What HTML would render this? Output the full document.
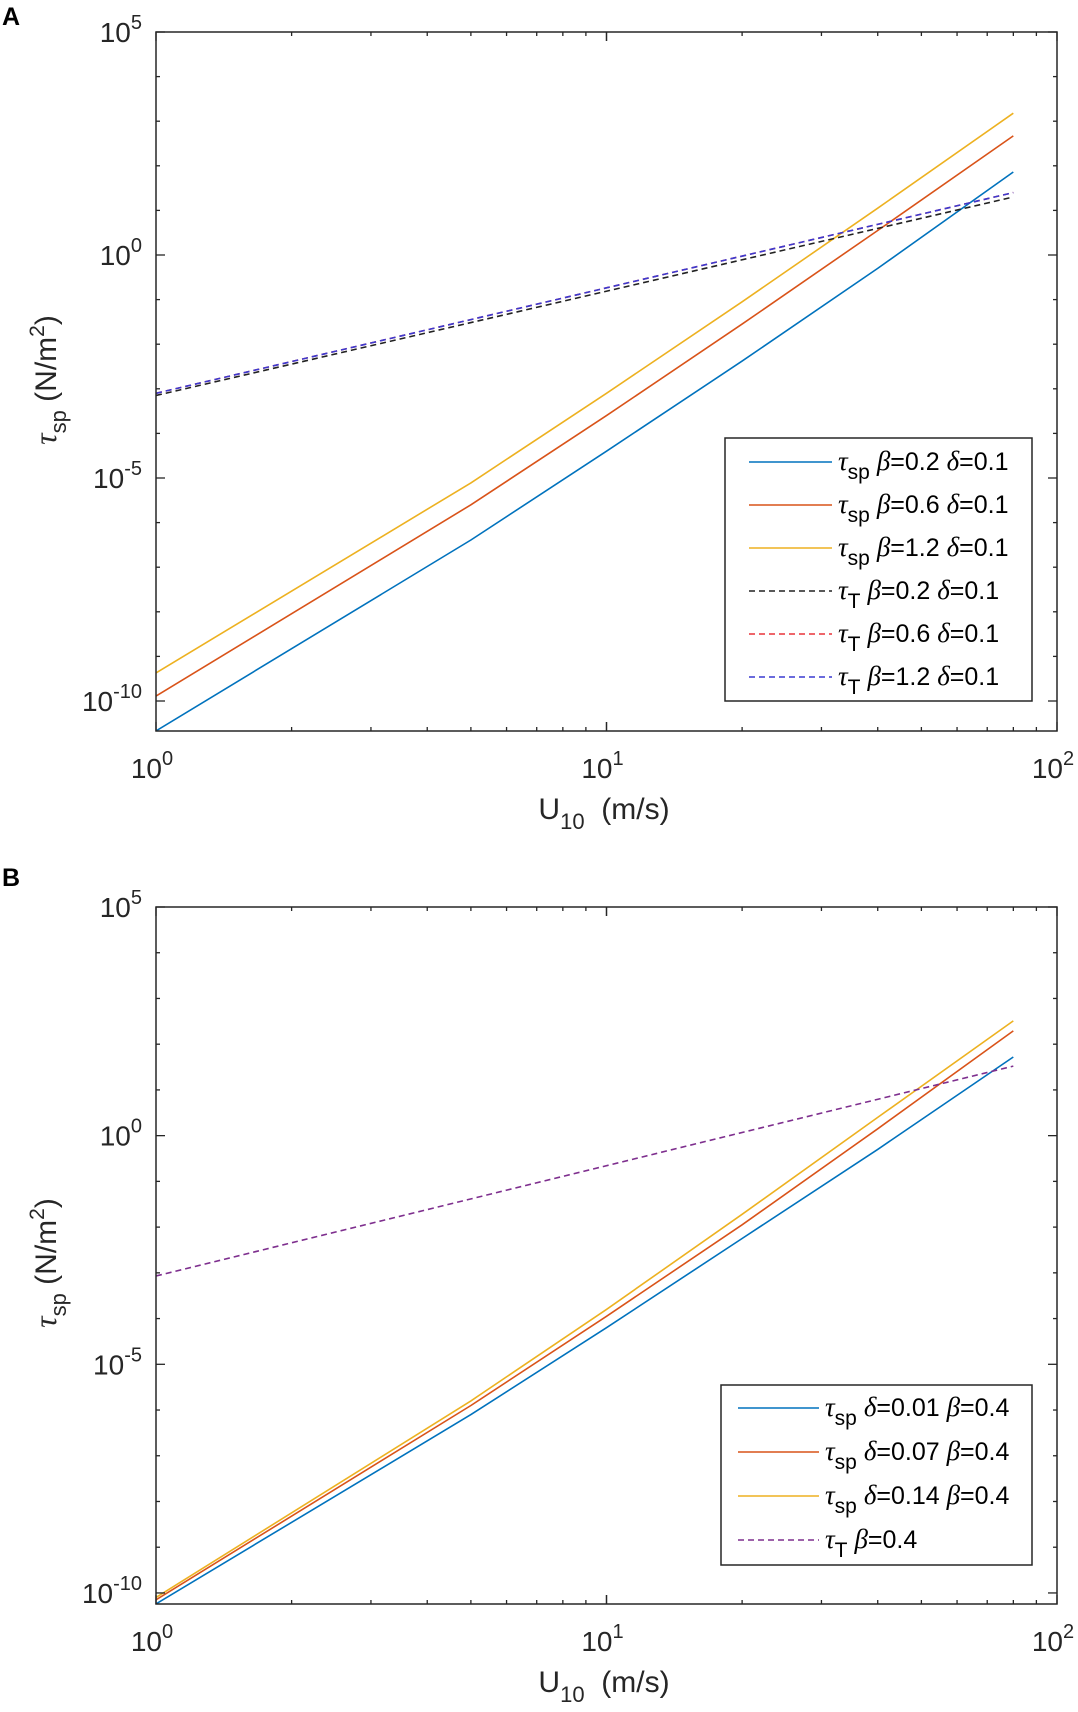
<!DOCTYPE html>
<html><head><meta charset="utf-8"><style>
body{margin:0;background:#fff;}
svg{display:block;font-family:"Liberation Sans",Arial,sans-serif;}
</style></head><body>
<svg id="fig" width="1078" height="1712" viewBox="0 0 1078 1712"></svg>
<script>
// shared x data (wind speed U10, m/s)
const uValues = [1, 5, 10, 20, 40, 80];
// Panel A series (log10 of tau)
const aBlue   = [-10.67, -6.39, -4.4, -2.38, -0.3, 1.86];
const aRed    = [-9.89, -5.6, -3.6, -1.55, 0.55, 2.67];
const aYellow = [-9.37, -5.11, -3.1, -1.05, 1.05, 3.18];
const dashU   = [1, 80];
const aTBlack = [-3.15, 1.3];
const aTRed   = [-3.1, 1.4];
const aTBlue  = [-3.1, 1.4];
// Panel B series (log10 of tau)
const bBlue   = [-10.24, -6.1, -4.2, -2.25, -0.3, 1.72];
const bRed    = [-10.15, -5.9, -3.95, -1.95, 0.15, 2.29];
const bYellow = [-10.1, -5.8, -3.8, -1.72, 0.4, 2.51];
const bTPurple= [-3.07, 1.52];
const yTickExps = [5, 0, -5, -10];
const xTickExps = [0, 1, 2];

const NS = "http://www.w3.org/2000/svg";
const svg = document.getElementById('fig');
function mk(tag, attrs, parent){
  const e = document.createElementNS(NS, tag);
  for (const k in attrs) e.setAttribute(k, attrs[k]);
  (parent||svg).appendChild(e); return e;
}
const LEFT=156, RIGHT=1057, XDEC=450.5;
function xScale(u){ return LEFT + Math.log10(u)*XDEC; }

function drawPanel(p){
  const g = mk('g',{});
  
  
  const yScale = v => p.y5 + (5 - v)*p.dec;
  const cp = 'clip-'+p.name;
  const clip = mk('clipPath',{id:cp},g);
  mk('rect',{x:LEFT,y:p.top,width:RIGHT-LEFT,height:p.bottom-p.top},clip);
  const plot = mk('g',{'clip-path':'url(#'+cp+')'},g);
  p.series.forEach(s=>{
    const pts = s.vals.map((v,i)=>xScale(s.u[i]).toFixed(1)+','+yScale(v).toFixed(1)).join(' ');
    const l = mk('polyline',{points:pts,fill:'none',stroke:s.color,'stroke-width':1.6,'stroke-linejoin':'round','stroke-dasharray':s.dash?'6,4':'none'},plot);
    
    
  });
  const box = mk('rect',{x:LEFT,y:p.top,width:RIGHT-LEFT,height:p.bottom-p.top,fill:'none',stroke:'#262626','stroke-width':1.5},g);
  
  
  for (let e=-10; e<=5; e++){
    const y = yScale(e); if (y>p.bottom||y<p.top-1) continue;
    const major = yTickExps.includes(e);
    const len = major?9:4;
    mk('line',{x1:LEFT,x2:LEFT+len,y1:y,y2:y,stroke:'#262626','stroke-width':1.3},g);
    mk('line',{x1:RIGHT,x2:RIGHT-len,y1:y,y2:y,stroke:'#262626','stroke-width':1.3},g);
  }
  yTickExps.forEach(e=>{
    const y = yScale(e);
    const t = mk('text',{x:LEFT-14,y:y+10,'text-anchor':'end','font-size':28,fill:'#262626'},g);
    
    
    t.innerHTML = '10<tspan dy="-13" font-size="20">'+e+'</tspan>';
  });
  for (let d=0; d<2; d++) for (let m=1; m<=10; m++){
    const u = m*Math.pow(10,d); const x = xScale(u);
    const major = (m===1||m===10);
    const len = major?9:4;
    mk('line',{x1:x,x2:x,y1:p.bottom,y2:p.bottom-len,stroke:'#262626','stroke-width':1.3},g);
    mk('line',{x1:x,x2:x,y1:p.top,y2:p.top+len,stroke:'#262626','stroke-width':1.3},g);
  }
  xTickExps.forEach(e=>{
    const x = xScale(Math.pow(10,e));
    const t = mk('text',{x:x-4,y:p.bottom+47,'text-anchor':'middle','font-size':28,fill:'#262626'},g);
    
    
    t.innerHTML = '10<tspan dy="-13" font-size="20">'+e+'</tspan>';
  });
  const xt = mk('text',{x:604,y:p.bottom+88,'text-anchor':'middle','font-size':30,fill:'#262626'},g);
  
  
  xt.innerHTML = 'U<tspan dy="10" font-size="22">10</tspan><tspan dy="-10" xml:space="preserve">  (m/s)</tspan>';
  const yt = mk('text',{x:0,y:0,'text-anchor':'middle','font-size':30,fill:'#262626',transform:'translate(56,'+p.ycenter+') rotate(-90)'},g);
  
  
  yt.innerHTML = '<tspan font-family="Liberation Serif" font-style="italic" font-size="32">τ</tspan><tspan dy="10" font-size="22">sp</tspan><tspan dy="-10"> (N/m</tspan><tspan dy="-12" font-size="21">2</tspan><tspan dy="12">)</tspan>';
  const pl = mk('text',{x:2,y:p.labelY,'font-size':25,'font-weight':'bold',fill:'#000'},g);
  
  
  pl.textContent = p.label;
  const lg = mk('g',{},g);
  
  
  mk('rect',{x:p.leg.x,y:p.leg.y,width:p.leg.w,height:p.leg.h,fill:'#fff',stroke:'#262626','stroke-width':1.5},lg);
  p.series.forEach((s,i)=>{
    const y = p.leg.y0 + i*p.leg.dy;
    const le = mk('g',{},lg);
    
    
    mk('line',{x1:p.leg.lx1,x2:p.leg.lx2,y1:y,y2:y,stroke:s.color,'stroke-width':1.6,'stroke-dasharray':s.dash?'6,4':'none'},le);
    const t = mk('text',{x:p.leg.lx2+6,y:y+8,'font-size':25,fill:'#000'},le);
    t.innerHTML = s.label;
  });
}
const tsp = '<tspan font-family="Liberation Serif" font-style="italic" font-size="27">τ</tspan><tspan dy="9" font-size="21">sp</tspan><tspan dy="-9"> </tspan>';
const tT  = '<tspan font-family="Liberation Serif" font-style="italic" font-size="27">τ</tspan><tspan dy="9" font-size="21">T</tspan><tspan dy="-9"> </tspan>';
const be = '<tspan font-family="Liberation Serif" font-style="italic" font-size="27">β</tspan>';
const de = '<tspan font-family="Liberation Serif" font-style="italic" font-size="27">δ</tspan>';

drawPanel({name:'panel-a',label:'A',labelY:25,top:32,bottom:731,y5:32,dec:44.6,ycenter:380,
  leg:{x:725,y:438,w:307,h:263,y0:462,dy:43,lx1:749,lx2:832},
  series:[
    {id:'line-tsp-beta-0.2',u:uValues,vals:aBlue,color:'#0072BD',label:tsp+be+'=0.2 '+de+'=0.1'},
    {id:'line-tsp-beta-0.6',u:uValues,vals:aRed,color:'#D95319',label:tsp+be+'=0.6 '+de+'=0.1'},
    {id:'line-tsp-beta-1.2',u:uValues,vals:aYellow,color:'#EDB120',label:tsp+be+'=1.2 '+de+'=0.1'},
    {id:'line-tT-beta-0.2',u:dashU,vals:aTBlack,color:'#222',dash:true,label:tT+be+'=0.2 '+de+'=0.1'},
    {id:'line-tT-beta-0.6',u:dashU,vals:aTRed,color:'#E8333A',dash:true,label:tT+be+'=0.6 '+de+'=0.1'},
    {id:'line-tT-beta-1.2',u:dashU,vals:aTBlue,color:'#3A3AD0',dash:true,label:tT+be+'=1.2 '+de+'=0.1'}
  ]});
drawPanel({name:'panel-b',label:'B',labelY:886,top:907,bottom:1604,y5:907,dec:45.73,ycenter:1263,
  leg:{x:721,y:1385,w:311,h:180,y0:1408,dy:44,lx1:738,lx2:819},
  series:[
    {id:'line-tsp-delta-0.01',u:uValues,vals:bBlue,color:'#0072BD',label:tsp+de+'=0.01 '+be+'=0.4'},
    {id:'line-tsp-delta-0.07',u:uValues,vals:bRed,color:'#D95319',label:tsp+de+'=0.07 '+be+'=0.4'},
    {id:'line-tsp-delta-0.14',u:uValues,vals:bYellow,color:'#EDB120',label:tsp+de+'=0.14 '+be+'=0.4'},
    {id:'line-tT-beta-0.4',u:dashU,vals:bTPurple,color:'#7E2F8E',dash:true,label:tT+be+'=0.4'}
  ]});
</script>
</body></html>
